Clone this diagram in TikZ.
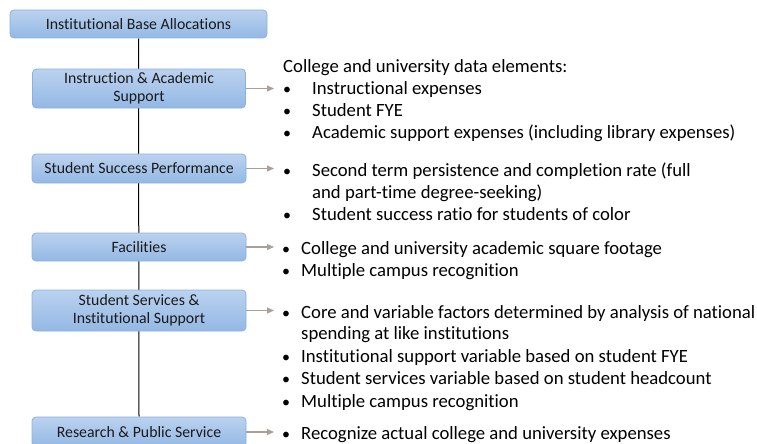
\documentclass[tikz,border=0pt]{standalone}
\usepackage{fontspec}
\setmainfont{Carlito}[RawFeature={-liga;-clig}]
\usetikzlibrary{arrows.meta,backgrounds}
\definecolor{boxtop}{HTML}{BBD2EF}
\definecolor{boxbot}{HTML}{93B8E4}
\definecolor{boxline}{HTML}{8AB1E0}
\definecolor{arrowgray}{HTML}{A8A19B}
\definecolor{boxtext}{HTML}{1A1A1A}
\tikzset{
  fundbox/.style={draw=boxline, line width=0.8pt, rounded corners=4pt,
    top color=boxtop, bottom color=boxbot, text=boxtext,
    font=\fontsize{15.8}{18.5}\selectfont, align=center, inner sep=0pt},
  feed/.style={draw=arrowgray, line width=1.2pt,
    -{Triangle[length=7pt,width=6pt]}},
  trunk/.style={draw=black, line width=1pt},
  detail/.style={anchor=base west, inner sep=0pt, text=black,
    font=\fontsize{18.7}{22}\selectfont},
  dot/.style={anchor=base, inner sep=0pt, text=black,
    font=\fontsize{16}{22}\selectfont}
}
\begin{document}
\begin{tikzpicture}[x=1pt,y=-1pt]
\useasboundingbox (0,0) rectangle (757,444);
\clip (0,0) rectangle (757,444);

% funding components
\node[fundbox, minimum width=257pt, minimum height=28pt] (base) at (138.5,24) {Institutional Base Allocations};
\node[fundbox, minimum width=213pt, minimum height=39pt] (instr) at (139,88.5) {Instruction \& Academic\\Support};
\node[fundbox, minimum width=214pt, minimum height=29pt] (succ) at (139,168.5) {Student Success Performance};
\node[fundbox, minimum width=214pt, minimum height=28pt] (fac) at (139,247) {Facilities};
\node[fundbox, minimum width=214pt, minimum height=41pt] (serv) at (139,310.5) {Student Services \&\\Institutional Support};
\node[fundbox, minimum width=214pt, minimum height=30pt] (res) at (139,432) {Research \& Public Service};

% spine joining the components
\begin{pgfonlayer}{background}
  \draw[trunk] (base.south) -- (res.north);
\end{pgfonlayer}

% arrow ends
\coordinate (e1) at (274,88.5);
\coordinate (e2) at (274,168.5);
\coordinate (e3) at (274,247);
\coordinate (e4) at (274,310.5);
\coordinate (e5) at (274,432);
\draw[feed] (instr.east) -- (e1);
\draw[feed] (succ.east) -- (e2);
\draw[feed] (fac.east) -- (e3);
\draw[feed] (serv.east) -- (e4);
\draw[feed] (res.east) -- (e5);

% instruction and academic support
\node[detail] (t0) at (283,72.5) {College and university data elements:};
\node[dot] (d1) at (287,94.5) {•};
\node[detail] (t1) at (312,94.5) {Instructional expenses};
\node[dot] (d2) at (287,116.5) {•};
\node[detail] (t2) at (312,116.5) {Student FYE};
\node[dot] (d3) at (287,138.5) {•};
\node[detail] (t3) at (312,138.5) {Academic support expenses (including library expenses)};

% student success
\node[dot] (d4) at (287,176.5) {•};
\node[detail] (t4) at (312,176.5) {Second term persistence and completion rate (full};
\node[detail] (t4b) at (312,198.5) {and part-time degree-seeking)};
\node[dot] (d5) at (287,220.5) {•};
\node[detail] (t5) at (312,220.5) {Student success ratio for students of color};

% facilities
\node[dot] (d6) at (286,254.5) {•};
\node[detail] (t6) at (301,254.5) {College and university academic square footage};
\node[dot] (d7) at (286,276.5) {•};
\node[detail] (t7) at (301,276.5) {Multiple campus recognition};

% student services and institutional support
\node[dot] (d8) at (286,318.5) {•};
\node[detail] (t8) at (301,318.5) {Core and variable factors determined by analysis of national};
\node[detail] (t8b) at (301,339.5) {spending at like institutions};
\node[dot] (d9) at (286,362.5) {•};
\node[detail] (t9) at (301,362.5) {Institutional support variable based on student FYE};
\node[dot] (d10) at (286,384.5) {•};
\node[detail] (t10) at (301,384.5) {Student services variable based on student headcount};
\node[dot] (d11) at (286,407.5) {•};
\node[detail] (t11) at (301,407.5) {Multiple campus recognition};

% research and public service
\node[dot] (d12) at (286,439.5) {•};
\node[detail] (t12) at (301,439.5) {Recognize actual college and university expenses};
\end{tikzpicture}
\end{document}
